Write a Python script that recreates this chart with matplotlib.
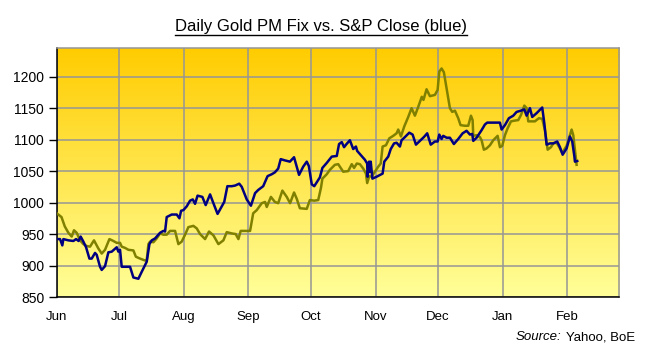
import matplotlib
matplotlib.use("Agg")
import matplotlib.pyplot as plt
import numpy as np
from matplotlib.colors import LinearSegmentedColormap
from matplotlib.lines import Line2D

plt.rcParams["font.family"] = ["Liberation Sans", "DejaVu Sans"]

# day offsets from 1 June
month_days = [0, 30, 61, 92, 122, 153, 183, 214, 245]
month_labels = ["Jun", "Jul", "Aug", "Sep", "Oct", "Nov", "Dec", "Jan", "Feb"]
y_ticks = [850, 900, 950, 1000, 1050, 1100, 1150, 1200]

# S&P 500 close (blue)
spx_days = [0, 1.6, 2.7, 3.2, 5.6, 8, 9.3, 10.5, 11.5, 12.8, 14.1, 15.7, 16.8,
            18.4, 19.2, 20.8, 21.6, 23.2, 24.8, 26.4, 28.8, 29.6, 30.4, 31.2,
            35.2, 36.8, 38, 39.2, 40.8, 43.2, 44.5, 45.6, 47.2, 49.6, 51.2, 52,
            52.8, 55.2, 57.6, 58.9, 59.7, 60.8, 62.4, 64, 65.3, 66.4, 67.6,
            69.9, 71.5, 73.6, 75.2, 77.2, 80.4, 81.9, 84, 85.6, 87.6, 88.8,
            91.2, 93.2, 95.2, 96.7, 99.1, 101.2, 103.2, 104.7, 106.3, 107.5,
            109.5, 111.9, 113.9, 116.3, 118.3, 120, 121, 122.4, 123.6, 126.3,
            127.5, 129.6, 132, 134.4, 135.5, 136.8, 137.9, 139.1, 140.7, 142.3,
            143.6, 144.2, 145.5, 147.9, 149, 149.2, 149.9, 150.3, 150.7, 151.5,
            153.5, 156.4, 157.2, 159.1, 160.3, 161.9, 163.1, 164.7, 165.5,
            167.1, 169.2, 170.8, 172.4, 174.3, 176.2, 177.8, 179.5, 181.5,
            182.8, 183.6, 184.7, 185.5, 187.1, 188.7, 190.6, 192.7, 194.8,
            196.7, 198.3, 199.4, 199.9, 201.5, 203.9, 205.5, 206.6, 212.7,
            213.5, 215.1, 217, 219.1, 220.7, 222.8, 224.4, 225.5, 227.1, 228.2,
            230.3, 233, 234, 235.1, 236.7, 238.3, 240.2, 241.5, 242.8, 244.7,
            246.3, 247.4, 248.4, 248.7, 249.8]
spx_vals = [942, 942, 932, 942, 940, 939, 942, 939, 946, 938, 929, 911, 911,
            920, 917, 898, 893, 899, 921, 922, 929, 922, 925, 898,
            898, 881, 880, 879, 890, 906, 934, 940, 943, 952, 955, 954,
            977, 981, 981, 975, 987, 988, 994, 1003, 1005, 998, 1011,
            1009, 996, 1013, 999, 982, 1001, 1026, 1026, 1027, 1030, 1025,
            1005, 995, 1015, 1020, 1026, 1042, 1045, 1048, 1054, 1069,
            1067, 1065, 1072, 1044, 1057, 1065, 1058, 1029, 1026, 1040,
            1055, 1063, 1073, 1074, 1093, 1096, 1088, 1093, 1099, 1085,
            1089, 1082, 1077, 1068, 1062, 1041, 1065, 1049, 1065, 1038,
            1041, 1046, 1065, 1073, 1085, 1094, 1095, 1089, 1099,
            1104, 1111, 1108, 1092, 1098, 1104, 1110, 1092, 1097,
            1097, 1108, 1101, 1106, 1103, 1103, 1093, 1101, 1110,
            1114, 1108, 1109, 1098, 1103, 1115, 1124, 1127, 1127,
            1116, 1123, 1134, 1138, 1144, 1146, 1148, 1138, 1150, 1136,
            1142, 1151, 1126, 1092, 1094, 1094, 1097, 1088, 1076, 1086,
            1105, 1097, 1074, 1065, 1066]

# London gold PM fix (olive)
gold_days = [0, 2.3, 3.9, 5.6, 7.2, 8.3, 9.6, 11.2, 12.8, 14.4, 16, 17.9, 20,
             21.6, 23.2, 25.3, 27.2, 28.8, 30.4, 31.2, 32.8, 34.4, 36.8, 38,
             40, 42.4, 43.2, 44, 44.8, 46.4, 48, 49.6, 51.2, 52.8, 54.4, 56.8,
             58.4, 60, 61.6, 63.2, 65.6, 67.2, 68.8, 71.2, 73.1, 75.2, 77.6,
             80, 81.6, 84, 85.9, 87.2, 88.3, 92.8, 94.3, 96, 98.4, 100, 100.8,
             102.8, 104.7, 106.3, 108.3, 110.4, 112, 113.9, 115.2, 116.7, 120,
             121.5, 123.6, 125.5, 126.8, 127.5, 129.6, 131.1, 133.5, 135.1,
             137.5, 139.9, 141.6, 142.7, 144, 145.5, 147.1, 148.4, 149, 150,
             151.1, 152.7, 154.3, 155.5, 156.4, 158, 159.6, 161.5, 163.1,
             163.9, 165.2, 166.8, 168.7, 170.3, 171.9, 173.5, 175.2, 176,
             177.5, 179.1, 181.5, 182.8, 183.6, 184.7, 185.8, 187.1, 188.7,
             189.8, 191.1, 192.7, 193.8, 195.9, 197.5, 198.8, 199.6, 199.9,
             201.5, 203.1, 203.9, 205, 206.3, 207.9, 209.5, 211.6, 212.7,
             213.8, 215.1, 216.4, 218, 219.5, 221.5, 222.8, 224.4, 225.5,
             226.3, 227.9, 229.5, 231.4, 233, 234.3, 235.6, 237.2, 238.3,
             239.9, 241, 242.6, 244.7, 246.3, 247.1, 247.9, 248.7, 249.5]
gold_vals = [983, 977, 962, 952, 946, 956, 952, 940, 934, 931, 930, 940, 927,
             919, 925, 942, 939, 936, 936, 930, 928, 925, 924, 914,
             911, 908, 908, 934, 938, 937, 943, 951, 949, 949, 955, 955,
             934, 938, 949, 961, 963, 959, 950, 942, 954, 948, 934,
             940, 953, 951, 950, 942, 955, 955, 983, 988, 999, 1001, 993,
             1009, 1001, 999, 1019, 1009, 999, 1016, 1006, 991, 990,
             1004, 1003, 1004, 1023, 1038, 1045, 1052, 1060, 1061,
             1049, 1050, 1061, 1055, 1062, 1061, 1054, 1046, 1031, 1042,
             1041, 1049, 1057, 1062, 1089, 1091, 1102, 1106, 1110,
             1116, 1105, 1121, 1136, 1150, 1138, 1152, 1168, 1163,
             1180, 1169, 1171, 1179, 1208, 1213, 1207, 1181, 1150,
             1144, 1146, 1134, 1123, 1122, 1122, 1138, 1131, 1106,
             1107, 1104, 1099, 1084, 1086, 1091, 1099, 1106, 1088,
             1090, 1107, 1118, 1129, 1130, 1131, 1139, 1154, 1150,
             1129, 1129, 1129, 1134, 1133, 1115, 1084, 1088, 1094,
             1095, 1089, 1079, 1090, 1107, 1116, 1107, 1084, 1060]

x_min, x_max = 0, 270
y_min, y_max = 850, 1245

fig = plt.figure(figsize=(6.45, 3.54), dpi=100)
ax = fig.add_axes([0.0879, 0.161, 0.8723, 0.7025])

# gold-to-pale-yellow background
grad_cmap = LinearSegmentedColormap.from_list("bg", ["#FFFF99", "#FFCC00"])
grad = np.linspace(0, 1, 256).reshape(-1, 1)
ax.imshow(grad, extent=[x_min, x_max, y_min, y_max], origin="lower",
          aspect="auto", cmap=grad_cmap, zorder=0)

ax.plot(gold_days, gold_vals, color="#808000", lw=1.8, zorder=3)
ax.plot(spx_days, spx_vals, color="#000080", lw=1.8, zorder=4)

ax.set_xlim(x_min, x_max)
ax.set_ylim(y_min, y_max)
ax.set_xticks(month_days)
ax.set_xticklabels(month_labels)
ax.set_yticks(y_ticks)

ax.grid(True, color="#969696", lw=1.1, zorder=1)
ax.tick_params(axis="x", length=0, pad=10, labelsize=9.5)
ax.tick_params(axis="y", length=6, width=1, pad=3, labelsize=10)

for side in ["top", "right"]:
    ax.spines[side].set_color("#969696")
    ax.spines[side].set_linewidth(1.1)
for side in ["left", "bottom"]:
    ax.spines[side].set_color("black")
    ax.spines[side].set_linewidth(1.1)

title = fig.text(0.498, 0.924, "Daily Gold PM Fix vs. S&P Close (blue)",
                 ha="center", va="center", fontsize=12)
right_txt = fig.text(0.984, 0.048, "Yahoo, BoE", ha="right", va="center",
                     fontsize=9.5)

fig.canvas.draw()
r = fig.canvas.get_renderer()
W, H = fig.bbox.width, fig.bbox.height

bb = title.get_window_extent(r)
uy = (bb.y0 - 1) / H
fig.add_artist(Line2D([bb.x0 / W, bb.x1 / W], [uy, uy], color="black", lw=1.0))

bb2 = right_txt.get_window_extent(r)
fig.text((bb2.x0 - 4) / W, 0.048, "Source:", ha="right", va="center",
         fontsize=9.5, style="italic")

fig.savefig("out.png", dpi=100)
